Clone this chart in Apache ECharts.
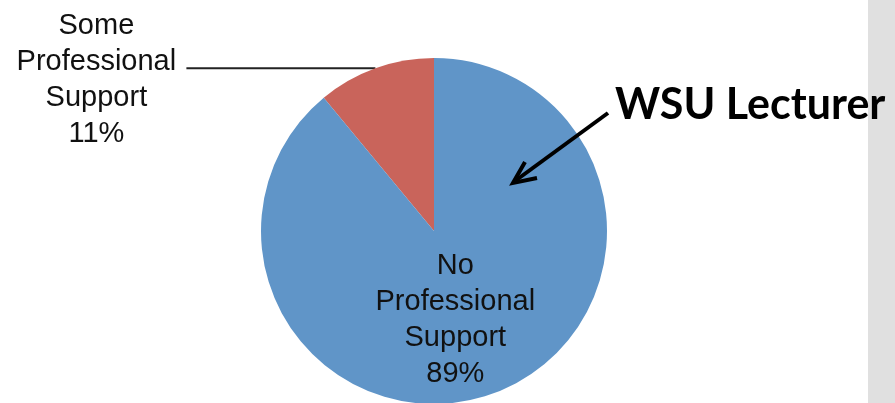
<!DOCTYPE html>
<html>
<head>
<meta charset="utf-8">
<script src="https://cdn.jsdelivr.net/npm/echarts@6/dist/echarts.min.js"></script>
<style>
html,body{margin:0;padding:0;background:#fff;}
#chart{width:895px;height:403px;}
</style>
</head>
<body>
<div id="chart"></div>
<script>
// Data
const categories = ['Some Professional Support', 'No Professional Support'];
const values = [11, 89];
const colors = ['#c9645b', '#6095c8'];
const annotationText = 'WSU Lecturer';

const chart = echarts.init(document.getElementById('chart'));

function wrapLabel(params) {
  const words = params.name.split(' ');
  words.push(params.percent.toFixed(0) + '%');
  return words.map(w => '{t|' + w + '}').join('\n');
}

const richStyle = {
  t: { width: 180, align: 'center', fontSize: 29, lineHeight: 36, fontFamily: 'Liberation Sans, Arial, sans-serif', color: '#111' }
};

const pieData = categories.map((name, i) => {
  const item = { name: name, value: values[i], itemStyle: { color: colors[i] } };
  if (i === 0) {
    item.label = {
      show: true, position: 'outside', formatter: wrapLabel, rich: richStyle,
      distanceToLabelLine: 0, padding: [24, 0, 0, 0]
    };
    item.labelLine = { show: true, length: 0, length2: 189, lineStyle: { color: '#222', width: 2 } };
  } else {
    item.label = {
      show: true, position: 'inside', formatter: wrapLabel, rich: richStyle, offset: [-9, 5]
    };
    item.labelLine = { show: false };
  }
  return item;
});

chart.setOption({
  backgroundColor: '#ffffff',
  animation: false,
  series: [{
    type: 'pie',
    center: [434, 231],
    radius: 173,
    startAngle: 90,
    clockwise: false,
    avoidLabelOverlap: false,
    emphasis: { disabled: true },
    itemStyle: { borderWidth: 0 },
    data: pieData
  }],
  graphic: [
    { type: 'rect', z: 0, shape: { x: 868, y: 0, width: 27, height: 403 }, style: { fill: '#e0e0e0' } },
    { type: 'polyline', z: 10, shape: { points: [[608, 113], [515, 181]] }, style: { stroke: '#000', lineWidth: 4, fill: null } },
    { type: 'polyline', z: 10, shape: { points: [[525, 162], [513, 183], [537, 178]] }, style: { stroke: '#000', lineWidth: 4, fill: null, lineJoin: 'miter' } },
    { type: 'text', z: 20, left: 615, top: 84, style: { text: annotationText, font: 'bold 43px Lato, "Open Sans", sans-serif', fill: '#000' } }
  ]
});
</script>
</body>
</html>
